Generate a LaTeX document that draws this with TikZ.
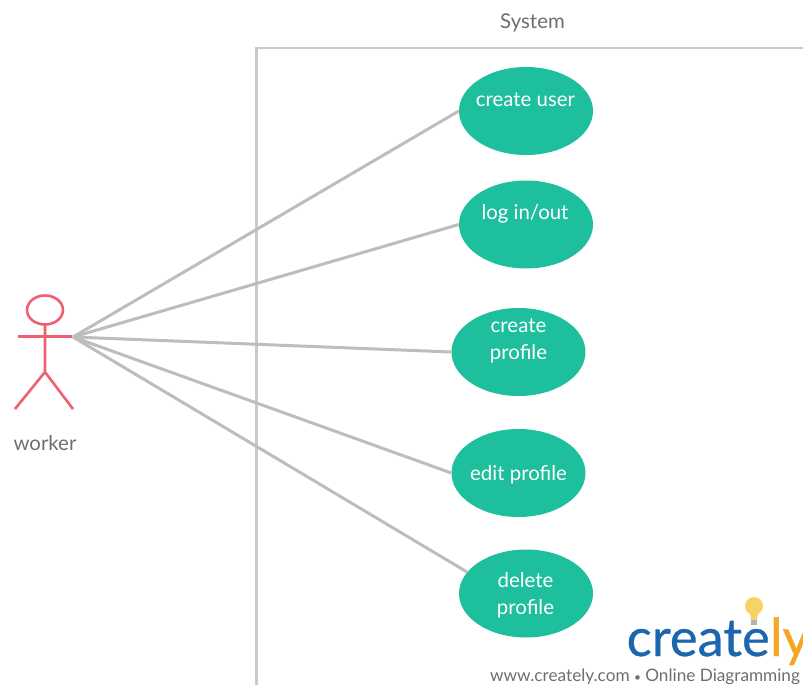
\documentclass[tikz,border=0pt]{standalone}
\usepackage{fontspec}
\setmainfont{Lato}
\newfontfamily\logofont[FakeBold=0.6]{Lato}
\usetikzlibrary{shapes.geometric}
\definecolor{teal1}{HTML}{1DBF9D}
\definecolor{red1}{HTML}{EE5F6F}
\definecolor{line1}{HTML}{BDBDBD}
\definecolor{frame1}{HTML}{CACACA}
\definecolor{txt1}{HTML}{6E6E6E}
\definecolor{logoblue}{HTML}{1B66AE}
\definecolor{logoor}{HTML}{F5A623}
\definecolor{bulb}{HTML}{F7D264}
\tikzset{
  usecase/.style={ellipse,fill=teal1,minimum width=134pt,minimum height=88pt,inner sep=0pt},
  casetext/.style={text=white,font=\fontsize{20.4}{27}\selectfont,inner sep=0pt,align=center},
  actorline/.style={draw=red1,line width=2.6pt},
  link/.style={draw=line1,line width=3pt},
  label/.style={text=txt1,font=\fontsize{20.4}{24}\selectfont,inner sep=0pt},
  logotext/.style={font=\logofont\fontsize{52.5}{52}\selectfont,inner sep=0pt,anchor=base west},
}
\begin{document}
\begin{tikzpicture}[x=1pt,y=-1pt]
\useasboundingbox (0,0) rectangle (803,685);
\draw[draw=frame1,line width=2.4pt] (803,48) -- (256.5,48) -- (256.5,685);
\node[label] (sys) at (532.5,22.5) {System};
\coordinate (hand) at (73,337);
\node[usecase] (a) at (526,111) {};
\node[usecase] (b) at (526,224.5) {};
\node[usecase] (c) at (518.5,352) {};
\node[usecase] (d) at (518.5,473) {};
\node[usecase] (e) at (526,593.5) {};
\draw[link] (hand) -- (a.west);
\draw[link] (hand) -- (b.west);
\draw[link] (hand) -- (c.west);
\draw[link] (hand) -- (d.west);
\draw[link] (hand) -- (e.160);
\node[casetext] (ta) at (525.5,99.5) {create user};
\node[casetext] (tb) at (525,213.5) {log in/out};
\node[casetext] (tc) at (518.5,340.5) {create\\profile};
\node[casetext] (td) at (518.5,474.5) {edit profile};
\node[casetext] (te) at (525.5,595.5) {delete\\profile};
% actor
\draw[actorline] (45,310) ellipse (18pt and 14.5pt);
\draw[actorline] (45,324.5) -- (45,372) (18,336.5) -- (72,336.5) (15,409) -- (45,372) -- (73,409);
\node[label] (w) at (45,443.5) {worker};
% logo
\begin{scope}
\clip (600,590) rectangle (803,685);
\node[logotext,text=logoblue] (lg) at (626.5,656) {create};
\node[logotext,text=logoor] (lg2) at (lg.base east) {ly};
\end{scope}
\fill[bulb] (754,606) circle (9pt);
\fill[bulb] (749.5,610) -- (758.5,610) -- (757,620) -- (751,620) -- cycle;
\fill[gray!60] (751,620) rectangle (757,625);
\node[text=txt1,font=\fontsize{17.2}{20}\selectfont,inner sep=0pt,anchor=base west] (url) at (490,681) {www.creately.com {\fontsize{12}{12}\selectfont\textbullet}\ Online Diagramming};
\end{tikzpicture}
\end{document}
